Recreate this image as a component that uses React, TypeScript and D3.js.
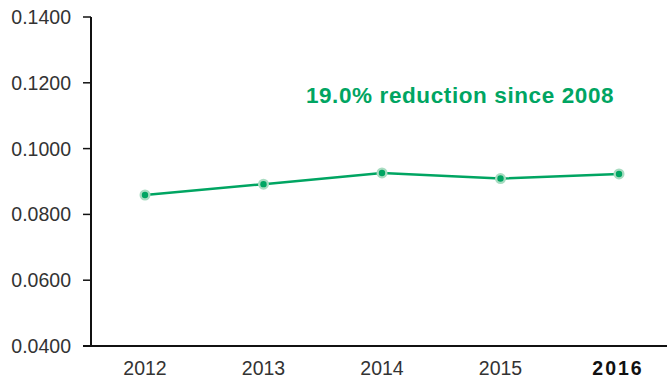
import React from "react";
import * as d3 from "d3";

const years = ["2012", "2013", "2014", "2015", "2016"];
const values = [0.0859, 0.0892, 0.0926, 0.0909, 0.0923];
const yTicks = [0.04, 0.06, 0.08, 0.1, 0.12, 0.14];
const annotation = "19.0% reduction since 2008";

const W = 667;
const H = 381;
const green = "#00a562";

export default function App() {
  const x = d3.scalePoint<string>().domain(years).range([145, 619]);
  const y = d3.scaleLinear().domain([0.04, 0.14]).range([346, 17]);
  const line = d3
    .line<number>()
    .x((_, i) => x(years[i]) as number)
    .y((d) => y(d));
  const font = "'Liberation Sans', Arial, sans-serif";
  return (
    <svg
      width={W}
      height={H}
      style={{ position: "absolute", left: 0, top: 0, background: "#fff" }}
    >
      {yTicks.map((t) => (
        <g key={t}>
          <line x1={83} x2={91} y1={y(t)} y2={y(t)} stroke="#111" strokeWidth={1.5} />
          <text
            x={71}
            y={y(t)}
            dy="0.36em"
            textAnchor="end"
            fontFamily={font}
            fontSize={19.5}
            fill="#333"
          >
            {t.toFixed(4)}
          </text>
        </g>
      ))}
      <line x1={91} x2={91} y1={y(0.14)} y2={y(0.04)} stroke="#111" strokeWidth={2} />
      <line x1={83} x2={W} y1={y(0.04)} y2={y(0.04)} stroke="#111" strokeWidth={2} />
      {years.map((yr, i) => {
        const last = i === years.length - 1;
        return (
          <text
            key={yr}
            x={(x(yr) as number) - (last ? 1 : 0)}
            y={375}
            textAnchor="middle"
            fontFamily={font}
            fontSize={19.5}
            fontWeight={last ? "bold" : "normal"}
            letterSpacing={last ? 2 : 0}
            fill={last ? "#111" : "#333"}
          >
            {yr}
          </text>
        );
      })}
      <path d={line(values) || ""} fill="none" stroke={green} strokeWidth={2.5} />
      {values.map((v, i) => (
        <g key={i}>
          <circle cx={x(years[i])} cy={y(v)} r={5.5} fill="#a8dcc1" />
          <circle cx={x(years[i])} cy={y(v)} r={3.2} fill={green} />
        </g>
      ))}
      <text
        x={460}
        y={103}
        textAnchor="middle"
        fontFamily={font}
        fontSize={22.5}
        fontWeight="bold"
        letterSpacing={0.6}
        fill={green}
      >
        {annotation}
      </text>
    </svg>
  );
}
